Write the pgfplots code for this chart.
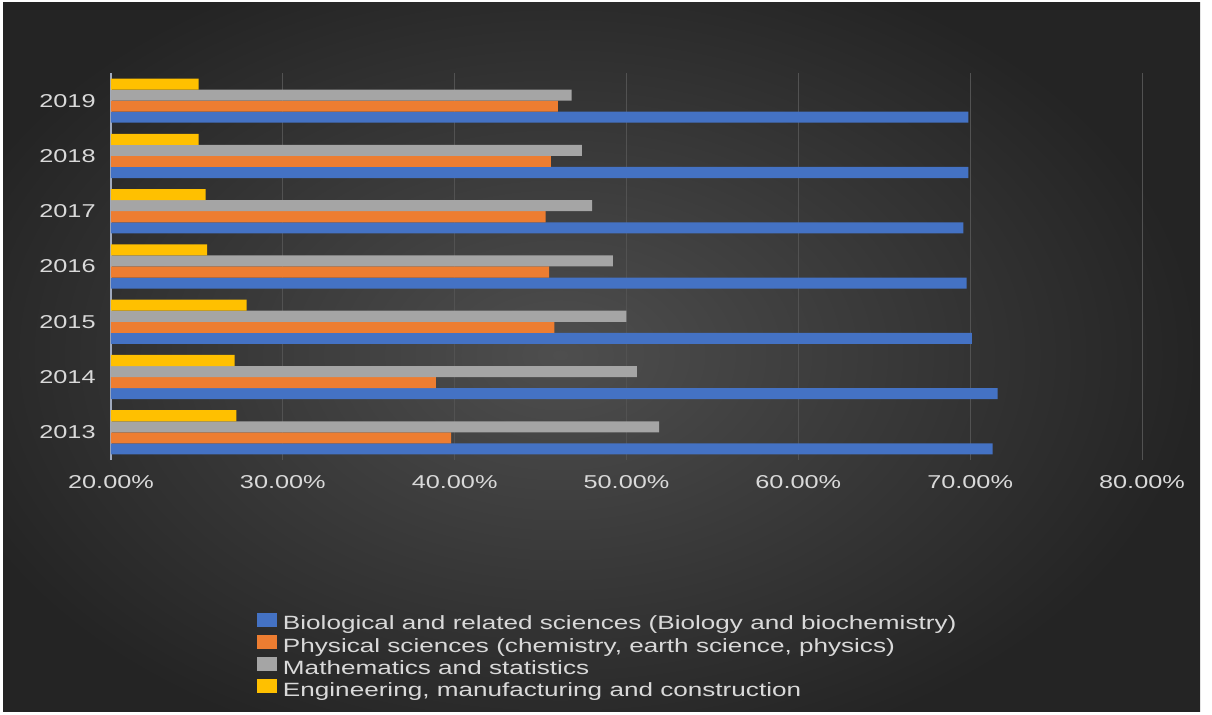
\documentclass[border=0pt]{standalone}
\usepackage{pgfplots}
\pgfplotsset{compat=1.18}
\usepackage{fontspec}
\setmainfont[FakeStretch=1.36]{Liberation Sans}
\definecolor{bioc}{RGB}{68,114,196}
\definecolor{phyc}{RGB}{237,125,49}
\definecolor{matc}{RGB}{165,165,165}
\definecolor{engc}{RGB}{255,192,0}
\definecolor{txt}{RGB}{217,217,217}
\definecolor{bginner}{RGB}{78,78,78}
\definecolor{bgouter}{RGB}{36,36,36}
\definecolor{gridc}{RGB}{82,82,82}
\definecolor{axc}{RGB}{160,170,190}
\begin{document}
\begin{tikzpicture}[x=0.5pt,y=0.5pt]
\fill[white] (0,0) rectangle (1212,715);
\begin{scope}
\clip (3,3) rectangle (1209,712);
\shade[inner color=bginner, outer color=bgouter] (-80,-60) rectangle (1200,780);
\end{scope}
\path[use as bounding box] (0,0) rectangle (1212,715);
\begin{axis}[
  at={(55.5pt,127.5pt)}, anchor=south west,
  scale only axis, width=515.5pt, height=193.5pt,
  xmin=20, xmax=80, ymin=-0.5, ymax=6.5,
  xbar, bar width=0.2,
  ytick={0,1,2,3,4,5,6},
  yticklabels={2013,2014,2015,2016,2017,2018,2019},
  xtick={20,30,40,50,60,70,80},
  xticklabels={20.00\%,30.00\%,40.00\%,50.00\%,60.00\%,70.00\%,80.00\%},
  axis y line*=left, axis x line*=bottom,
  x axis line style={draw=none},
  y axis line style={draw=axc, line width=0.6pt, -},
  major tick length=0pt,
  xmajorgrids, major grid style={draw=gridc, line width=0.5pt},
  ticklabel style={font=\fontsize{9.3}{11}\selectfont, text=txt, inner sep=0pt},
  yticklabel style={xshift=-7.5pt},
  xticklabel style={yshift=-7.5pt},
  legend cell align=left,
  legend style={at={(axis description cs:0.1416,-0.395)}, anchor=north west,
    draw=none, fill=none, inner sep=0pt, outer sep=0pt, row sep=0pt,
    text=txt, font=\fontsize{9.6}{11}\selectfont,
    nodes={inner sep=0pt, text height=7.6pt, text depth=2.55pt}},
  legend image code/.code={\fill[#1,draw=none] (0pt,-1pt) rectangle (10pt,6pt); \path (13pt,0pt);},
]
\addplot[fill=bioc, draw=none, bar shift=-0.3] coordinates {(71.3,0) (71.6,1) (70.1,2) (69.8,3) (69.6,4) (69.9,5) (69.9,6)};
\addplot[fill=phyc, draw=none, bar shift=-0.1] coordinates {(39.8,0) (38.9,1) (45.8,2) (45.5,3) (45.3,4) (45.6,5) (46.0,6)};
\addplot[fill=matc, draw=none, bar shift=0.1] coordinates {(51.9,0) (50.6,1) (50.0,2) (49.2,3) (48.0,4) (47.4,5) (46.8,6)};
\addplot[fill=engc, draw=none, bar shift=0.3] coordinates {(27.3,0) (27.2,1) (27.9,2) (25.6,3) (25.5,4) (25.1,5) (25.1,6)};
\legend{Biological and related sciences (Biology and biochemistry),
        {Physical sciences (chemistry, earth science, physics)},
        Mathematics and statistics,
        {Engineering, manufacturing and construction}}
\end{axis}
\end{tikzpicture}
\end{document}
